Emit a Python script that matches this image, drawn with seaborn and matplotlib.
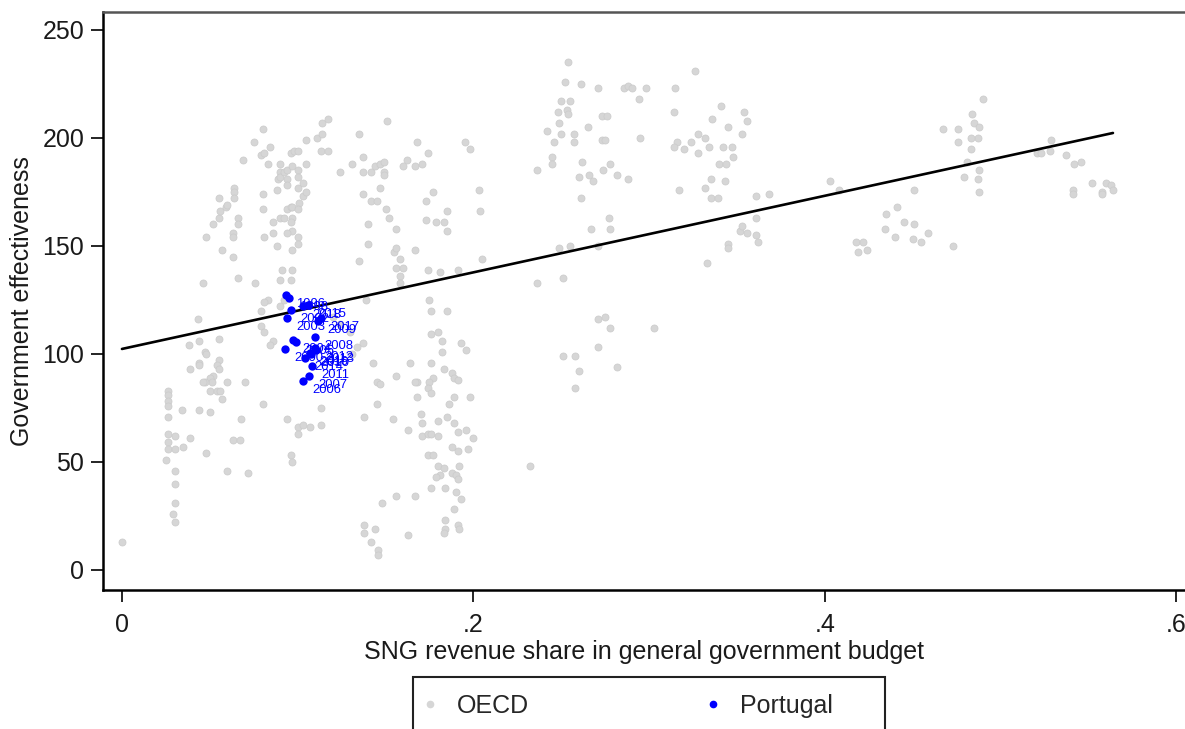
import matplotlib
matplotlib.use("Agg")
import matplotlib.pyplot as plt
import seaborn as sns
import numpy as np
from matplotlib.lines import Line2D
from matplotlib.patches import Rectangle
from matplotlib.ticker import FixedLocator, FixedFormatter

sns.set_theme(style="white")
plt.rcParams["font.family"] = ["Liberation Sans", "DejaVu Sans"]

# OECD country-years: SNG revenue share vs. government effectiveness
oecd_share = [
    0.000,
    0.080, 0.075, 0.079, 0.081, 0.084, 0.069, 0.055, 0.048, 0.052, 0.055,
    0.056, 0.059, 0.060, 0.064, 0.064, 0.064, 0.066, 0.066, 0.063, 0.063,
    0.057, 0.063, 0.046, 0.066, 0.076, 0.080, 0.080, 0.081, 0.086, 0.088,
    0.086, 0.090, 0.092, 0.094, 0.096, 0.097, 0.090, 0.089, 0.088, 0.090,
    0.092, 0.094, 0.094, 0.094, 0.097, 0.100, 0.100, 0.100, 0.103, 0.105,
    0.083, 0.090, 0.096, 0.098, 0.100, 0.103, 0.105, 0.101, 0.100, 0.097,
    0.096, 0.097, 0.100, 0.100, 0.097, 0.094, 0.091, 0.097, 0.090, 0.096,
    0.105, 0.111, 0.114, 0.114, 0.117, 0.113, 0.117, 0.083, 0.081, 0.079,
    0.043, 0.044, 0.055, 0.038, 0.079, 0.081, 0.086, 0.090, 0.092,
    0.047, 0.048, 0.044, 0.044, 0.039, 0.055, 0.054, 0.055, 0.052, 0.050,
    0.051, 0.047, 0.046, 0.050, 0.054, 0.056, 0.060, 0.070, 0.026, 0.026,
    0.026, 0.026, 0.026, 0.034, 0.044, 0.050, 0.057, 0.080, 0.068, 0.026,
    0.030, 0.026, 0.026, 0.030, 0.025, 0.035, 0.039, 0.048, 0.063, 0.067,
    0.030, 0.060, 0.072, 0.030, 0.030, 0.029, 0.030, 0.094, 0.100, 0.100,
    0.103, 0.107, 0.113, 0.113, 0.096, 0.097, 0.084, 0.120, 0.124, 0.130,
    0.151, 0.135, 0.168, 0.174, 0.195, 0.198, 0.131, 0.137, 0.124, 0.137,
    0.142, 0.144, 0.147, 0.149, 0.149, 0.149, 0.162, 0.160, 0.167, 0.171,
    0.147, 0.137, 0.142, 0.145, 0.150, 0.152, 0.156, 0.140, 0.177, 0.173,
    0.203, 0.204, 0.185, 0.173, 0.179, 0.183, 0.185, 0.140, 0.155, 0.156,
    0.167, 0.158, 0.156, 0.160, 0.158, 0.158, 0.135, 0.174, 0.181, 0.191,
    0.205, 0.139, 0.175, 0.176, 0.185, 0.176, 0.180, 0.182, 0.193,
    0.182, 0.196, 0.143, 0.164, 0.176, 0.183, 0.156, 0.177, 0.175, 0.188,
    0.189, 0.191, 0.145, 0.147, 0.168, 0.167, 0.174, 0.176, 0.189, 0.198,
    0.168, 0.186, 0.145, 0.138, 0.154, 0.170, 0.171, 0.180, 0.185, 0.189,
    0.163, 0.191, 0.196, 0.200, 0.171, 0.174, 0.176, 0.180, 0.188, 0.191,
    0.197, 0.174, 0.177, 0.180, 0.183, 0.192, 0.181, 0.179, 0.188, 0.190,
    0.191, 0.176, 0.184, 0.190, 0.193, 0.156, 0.167, 0.148, 0.189, 0.184,
    0.184, 0.183, 0.191, 0.192, 0.138, 0.138, 0.144, 0.163, 0.142, 0.146,
    0.146, 0.137, 0.134, 0.131,
    0.254, 0.326, 0.252, 0.261, 0.271, 0.286, 0.288, 0.290, 0.298, 0.315,
    0.294, 0.250, 0.255, 0.248, 0.253, 0.254, 0.249, 0.242, 0.250, 0.257,
    0.265, 0.273, 0.276, 0.273, 0.275, 0.295, 0.246, 0.257, 0.245, 0.245,
    0.262, 0.236, 0.260, 0.266, 0.268, 0.274, 0.278, 0.282, 0.288, 0.261,
    0.314, 0.341, 0.336, 0.354, 0.356, 0.345, 0.353, 0.328, 0.332, 0.334,
    0.316, 0.314, 0.320, 0.324, 0.328, 0.342, 0.347, 0.340, 0.344, 0.348,
    0.335, 0.343, 0.332, 0.335, 0.339, 0.317, 0.361, 0.368, 0.361, 0.352,
    0.353, 0.356, 0.361, 0.362, 0.345, 0.345, 0.333, 0.277, 0.278, 0.267,
    0.271, 0.249, 0.255, 0.236, 0.251, 0.232, 0.251, 0.258, 0.260, 0.258,
    0.271, 0.275, 0.278, 0.271, 0.282, 0.303,
    0.490, 0.484, 0.485, 0.488, 0.487, 0.483, 0.467, 0.476, 0.476, 0.483,
    0.481, 0.488, 0.487, 0.479, 0.488, 0.403, 0.408, 0.451, 0.441, 0.435,
    0.445, 0.451, 0.434, 0.440, 0.450, 0.455, 0.459, 0.418, 0.422, 0.419,
    0.424, 0.473, 0.529, 0.521, 0.523, 0.528, 0.537, 0.542, 0.546, 0.552,
    0.560, 0.563, 0.558, 0.564, 0.558, 0.541, 0.541,
]
oecd_effect = [
    13,
    204, 198, 192, 193, 196, 190, 172, 154, 160, 163,
    166, 168, 169, 177, 175, 172, 163, 160, 156, 154,
    148, 145, 133, 135, 133, 174, 167, 154, 156, 150,
    161, 163, 163, 167, 168, 168, 184, 181, 176, 182,
    184, 185, 181, 178, 187, 185, 182, 177, 179, 188,
    188, 188, 193, 194, 194, 173, 175, 170, 167, 163,
    161, 157, 154, 151, 148, 156, 139, 139, 134, 134,
    199, 200, 202, 207, 209, 194, 194, 125, 124, 120,
    116, 106, 107, 104, 113, 110, 106, 122, 125,
    101, 100, 96, 95, 93, 97, 95, 93, 90, 89,
    87, 87, 87, 83, 83, 83, 87, 87, 83, 81,
    78, 76, 71, 74, 74, 73, 79, 77, 70, 63,
    62, 59, 56, 56, 51, 57, 61, 54, 60, 60,
    46, 46, 45, 40, 31, 26, 22, 70, 66, 63,
    67, 66, 67, 75, 53, 50, 104, 117, 114, 110,
    208, 202, 198, 193, 198, 195, 188, 191, 184, 184,
    184, 187, 188, 189, 184, 183, 190, 187, 187, 188,
    177, 174, 171, 171, 167, 163, 158, 160, 175, 171,
    176, 166, 166, 162, 161, 161, 157, 151, 147, 149,
    148, 144, 140, 140, 136, 133, 143, 139, 138, 139,
    144, 125, 125, 120, 120, 109, 110, 106, 105,
    101, 102, 96, 96, 96, 93, 90, 89, 87, 91,
    89, 88, 87, 86, 87, 87, 84, 82, 80, 80,
    80, 77, 77, 71, 70, 72, 68, 69, 71, 68,
    65, 64, 65, 61, 62, 63, 63, 62, 57, 55,
    56, 53, 53, 48, 47, 48, 44, 43, 45, 44,
    42, 38, 38, 36, 33, 34, 34, 31, 28, 23,
    19, 17, 21, 19, 21, 17, 19, 16, 13, 9,
    7, 105, 103, 100,
    235, 231, 226, 225, 223, 223, 224, 223, 223, 223,
    218, 217, 217, 212, 213, 211, 207, 203, 202, 202,
    205, 210, 210, 199, 199, 200, 198, 198, 191, 188,
    189, 185, 182, 183, 180, 185, 188, 183, 181, 172,
    212, 215, 209, 212, 208, 205, 202, 202, 200, 196,
    198, 196, 195, 198, 193, 196, 196, 188, 188, 191,
    181, 180, 177, 172, 172, 176, 173, 174, 163, 157,
    159, 156, 155, 152, 151, 149, 142, 163, 158, 158,
    150, 149, 150, 133, 135, 48, 99, 99, 92, 84,
    116, 117, 112, 103, 94, 112,
    218, 211, 207, 205, 200, 200, 204, 204, 198, 195,
    189, 185, 181, 182, 175, 180, 176, 176, 168, 165,
    161, 160, 158, 154, 153, 152, 156, 152, 152, 147,
    148, 150, 199, 193, 193, 194, 192, 188, 189, 179,
    179, 178, 175, 176, 174, 176, 174,
]

# Portugal, by year
portugal_year = [1996, 1998, 2000, 2002, 2003, 2004, 2005, 2006, 2007, 2008,
                 2009, 2010, 2011, 2012, 2013, 2014, 2015, 2016, 2017, 2018]
portugal_share = [0.0933, 0.0950, 0.0928, 0.0962, 0.0939, 0.0973, 0.0990, 0.1030, 0.1064, 0.1098,
                  0.1116, 0.1076, 0.1081, 0.1098, 0.1104, 0.1042, 0.1059, 0.1070, 0.1133, 0.1030]
portugal_effect = [127.3, 125.9, 102.3, 120.4, 116.7, 106.5, 105.6, 87.5, 89.8, 107.9,
                   115.3, 100.0, 94.4, 102.8, 101.9, 98.1, 122.7, 100.5, 116.7, 122.2]

# Linear fit over the OECD sample
fit_intercept = 102.3
fit_slope = 177.3

x_ticks = [0, 0.2, 0.4, 0.6]
x_tick_labels = ["0", ".2", ".4", ".6"]
y_ticks = [0, 50, 100, 150, 200, 250]
legend_labels = ["OECD", "Portugal"]

grey = "#d6d6d6"
blue = "#0000ff"

fig = plt.figure(figsize=(11.85, 7.29), dpi=100)
ax = fig.add_axes([0.0869, 0.1907, 0.9131, 0.7928])

sns.scatterplot(x=oecd_share, y=oecd_effect, color=grey, s=26,
                edgecolor="#cbcbcb", linewidth=0.5, ax=ax, zorder=2)

fit_x = np.array([min(oecd_share), max(oecd_share)])
sns.lineplot(x=fit_x, y=fit_intercept + fit_slope * fit_x, color="black",
             linewidth=1.9, ax=ax, zorder=3)

sns.scatterplot(x=portugal_share, y=portugal_effect, color=blue, s=36,
                edgecolor=blue, linewidth=0, ax=ax, zorder=4)
for yr, xs, ys in zip(portugal_year, portugal_share, portugal_effect):
    ax.annotate(str(yr), (xs, ys), xytext=(7, -6.5), textcoords="offset points",
                ha="left", va="center", fontsize=9.4, color=blue, zorder=5)

ax.set_xlim(-0.0108, 0.605)
ax.set_ylim(-9.3, 258.3)
ax.xaxis.set_major_locator(FixedLocator(x_ticks))
ax.xaxis.set_major_formatter(FixedFormatter(x_tick_labels))
ax.set_yticks(y_ticks)

ax.tick_params(axis="both", which="major", direction="out", bottom=True, left=True,
               length=8.5, width=1.2, color="black", labelsize=18, pad=5,
               labelcolor="#1a1a1a")
ax.tick_params(axis="x", pad=8)
ax.set_xlabel("SNG revenue share in general government budget", fontsize=18,
              color="#1a1a1a", labelpad=2)
ax.set_ylabel("Government effectiveness", fontsize=18, color="#1a1a1a", labelpad=6)

for side in ["left", "bottom"]:
    ax.spines[side].set_color("black")
    ax.spines[side].set_linewidth(1.8)
ax.spines["top"].set_color("#555555")
ax.spines["top"].set_linewidth(1.8)
ax.spines["right"].set_visible(False)

handles = [
    Line2D([], [], marker="o", linestyle="", color=grey, markersize=4.5),
    Line2D([], [], marker="o", linestyle="", color=blue, markersize=4.5),
]
fig.legend(handles, legend_labels, loc="center", bbox_to_anchor=(0.5287, 0.0316),
           ncol=2, frameon=False, fontsize=18, handlelength=0.8,
           handletextpad=0.68, columnspacing=6.96, borderpad=0.0)
fig.add_artist(Rectangle((0.3485, -0.02), 0.3983, 0.091, transform=fig.transFigure,
                         fill=False, edgecolor="#222222", linewidth=1.5, clip_on=False))

fig.savefig("out.png", dpi=100)
